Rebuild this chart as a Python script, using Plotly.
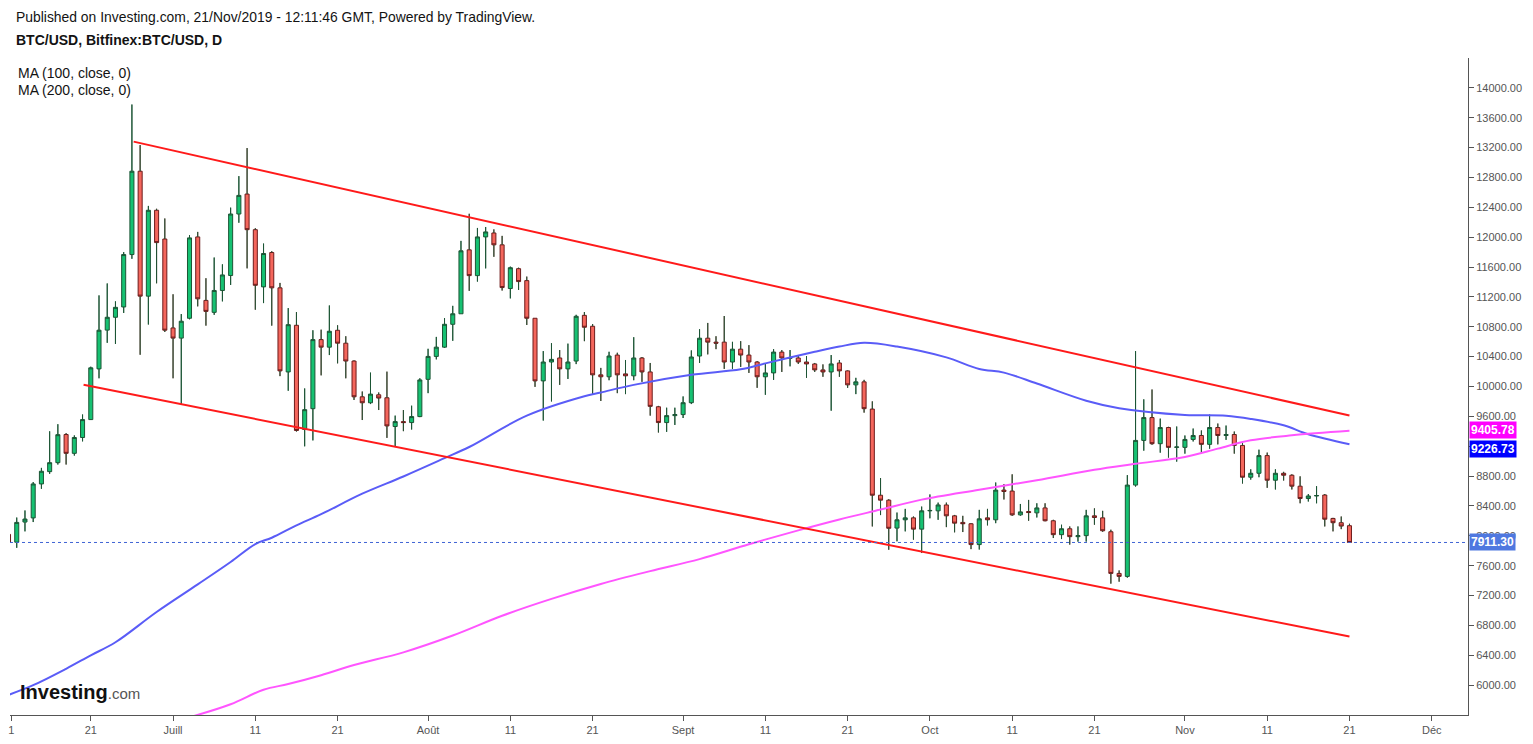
import numpy as np
import pandas as pd
import plotly.graph_objects as go

# Daily BTC/USD candles, Bitfinex, 11 Jun 2019 -> 21 Nov 2019
dates = pd.date_range("2019-06-11", periods=164, freq="D")

opens = [
    # Jun 11-30
    8020, 7915, 8185, 8240, 8695, 8860, 8980, 9357, 9105, 9317,
    9557, 10236, 10755, 10927, 11065, 11767, 12883, 11210, 12360, 11975,
    # Jul
    10784, 10648, 10914, 12003, 11153, 10993, 11286, 11486, 12310, 12577,
    12100, 11334, 11794, 11321, 10195, 10820, 9424, 9703, 10628, 10527,
    10753, 10580, 10341, 9862, 9782, 9889, 9849, 9464, 9530, 9517, 9597,
    # Aug
    10096, 10403, 10527, 10833, 10974, 11830, 11485, 12003, 12056, 11897,
    11312, 11578, 11418, 10914, 10075, 10328, 10382, 10236, 10341, 10953,
    10807, 10156, 10130, 10421, 10169, 10143, 10382, 10195, 9729, 9517, 9610,
    # Sep
    9624, 9783, 10408, 10647, 10594, 10594, 10328, 10500, 10421, 10328,
    10130, 10182, 10461, 10377, 10382, 10328, 10302, 10222, 10195, 10315,
    10209, 10022, 10062, 9698, 8544, 8478, 8104, 8215, 8241, 8090,
    # Oct
    8335, 8335, 8414, 8268, 8180, 8162, 7883, 8241, 8215, 8613,
    8600, 8281, 8326, 8308, 8374, 8202, 8016, 8095, 7989, 8003,
    8268, 8241, 8055, 7497, 7457, 8680, 9278, 9584, 9234, 9451, 9185,
    # Nov 1-21
    9185, 9291, 9344, 9225, 9451, 9344, 9357, 9211, 8785, 8838,
    9075, 8745, 8838, 8812, 8665, 8500, 8534, 8547, 8233, 8176, 8136,
]
highs = [
    8090, 8245, 8340, 8720, 8910, 9400, 9495, 9375, 9345, 9625,
    10265, 11220, 11380, 11140, 11800, 13776, 13233, 12418, 12380, 12250,
    11235, 10970, 12027, 12070, 11450, 11727, 11636, 12395, 12817, 13193,
    12120, 11914, 11812, 11387, 11050, 10997, 9974, 10753, 10761, 11085,
    10820, 10673, 10350, 9933, 10186, 9920, 10199, 9610, 9685, 9743, 10110,
    10505, 10664, 10917, 11080, 11950, 12313, 12123, 12136, 12104, 12017,
    11605, 11591, 11472, 10914, 10474, 10580, 10488, 10574, 10960, 10997,
    10837, 10249, 10465, 10452, 10355, 10660, 10395, 10315, 9740, 9716, 9716,
    9867, 10483, 10767, 10851, 10673, 10944, 10598, 10607, 10554, 10340,
    10302, 10500, 10488, 10488, 10408, 10408, 10315, 10296, 10421, 10355,
    10215, 10116, 10089, 9801, 8774, 8490, 8312, 8361, 8259, 8392,
    8554, 8445, 8445, 8280, 8268, 8170, 8348, 8361, 8714, 8692,
    8824, 8427, 8481, 8436, 8436, 8215, 8149, 8126, 8126, 8348,
    8368, 8335, 8082, 7537, 8813, 10474, 9828, 9960, 9570, 9460, 9464,
    9344, 9437, 9411, 9624, 9504, 9477, 9397, 9264, 8891, 9154,
    9115, 8891, 8857, 8824, 8797, 8560, 8665, 8560, 8241, 8259, 8162,
]
lows = [
    7880, 7840, 8060, 8185, 8630, 8830, 8955, 8955, 9075, 9265,
    9555, 10110, 10585, 10570, 10985, 11710, 10425, 10830, 11382, 10730,
    10110, 9762, 10900, 11073, 10815, 10960, 11140, 11360, 12193, 11582,
    11028, 11117, 10815, 10139, 9943, 9397, 9199, 9278, 10149, 10421,
    10310, 10110, 9820, 9551, 9765, 9685, 9312, 9199, 9402, 9424, 9590,
    9911, 10363, 10518, 10612, 10974, 11281, 11405, 11582, 11737, 11285,
    11180, 11293, 10824, 9995, 9544, 9800, 10022, 10101, 10300, 10607,
    9898, 9806, 10084, 9911, 9898, 10084, 10062, 9610, 9384, 9393, 9485,
    9578, 9765, 10315, 10430, 10500, 10236, 10236, 10262, 10182, 9982,
    9889, 10089, 10195, 10270, 10302, 10116, 10195, 10130, 9676, 10130,
    9982, 9898, 9650, 8126, 8278, 7814, 7927, 8060, 7949, 7770,
    8235, 8215, 8117, 8047, 8051, 7822, 7817, 8140, 8170, 8487,
    8268, 8270, 8202, 8246, 8195, 7971, 7957, 7883, 7923, 7923,
    8149, 8055, 7360, 7386, 7440, 8660, 9141, 9220, 9114, 9048, 8994,
    9101, 9264, 9114, 9167, 9225, 9285, 9101, 8701, 8753, 8785,
    8643, 8621, 8741, 8621, 8436, 8460, 8436, 8126, 8060, 8090, 7905,
]
closes = [
    7915, 8180, 8225, 8695, 8865, 8980, 9355, 9105, 9317, 9557,
    10250, 10754, 10927, 11060, 11767, 12883, 11210, 12360, 11927, 10754,
    10648, 10874, 11990, 11174, 11006, 11286, 11494, 12310, 12559, 12100,
    11355, 11781, 11321, 10209, 10828, 9411, 9690, 10628, 10527, 10740,
    10580, 10341, 9862, 9782, 9898, 9845, 9472, 9530, 9517, 9597, 10088,
    10403, 10527, 10833, 10974, 11817, 11485, 12003, 12070, 11897, 11325,
    11591, 11405, 10914, 10075, 10328, 10363, 10236, 10328, 10940, 10793,
    10156, 10130, 10408, 10156, 10143, 10382, 10195, 9734, 9517, 9610, 9624,
    9783, 10395, 10647, 10594, 10580, 10328, 10500, 10421, 10328, 10130,
    10182, 10461, 10382, 10386, 10328, 10302, 10222, 10195, 10302, 10209,
    10022, 10062, 9703, 8544, 8478, 8101, 8215, 8241, 8090, 8335,
    8340, 8414, 8268, 8170, 8162, 7883, 8228, 8215, 8613, 8594,
    8281, 8321, 8312, 8374, 8202, 8016, 8095, 7989, 8003, 8268,
    8246, 8068, 7497, 7457, 8680, 9278, 9584, 9234, 9451, 9185, 9190,
    9291, 9344, 9225, 9451, 9344, 9357, 9211, 8785, 8838, 9075,
    8745, 8838, 8812, 8665, 8500, 8534, 8540, 8223, 8176, 8131, 7911.30,
]

# moving averages (need history before the window)
ma100_dates = [
    "2019-06-11", "2019-06-14", "2019-06-18", "2019-06-21", "2019-06-24", "2019-06-29",
    "2019-07-04", "2019-07-08", "2019-07-11", "2019-07-13", "2019-07-16", "2019-07-19",
    "2019-07-24", "2019-07-29", "2019-08-03", "2019-08-06", "2019-08-13", "2019-08-20",
    "2019-08-22", "2019-08-26", "2019-09-02", "2019-09-08", "2019-09-11", "2019-09-17",
    "2019-09-20", "2019-09-23", "2019-09-27", "2019-10-03", "2019-10-07", "2019-10-10",
    "2019-10-14", "2019-10-20", "2019-10-24", "2019-11-01", "2019-11-06", "2019-11-09",
    "2019-11-13", "2019-11-16", "2019-11-21",
]
ma100_values = [
    5870, 6000, 6220, 6400, 6575, 6980,
    7350, 7650, 7890, 7975, 8140, 8290,
    8565, 8795, 9040, 9190, 9610, 9870,
    9920, 10022, 10156, 10230, 10310, 10465,
    10535, 10585, 10535, 10390, 10235, 10186,
    10040, 9810, 9710, 9620, 9608, 9566,
    9480, 9360, 9226.73,
]
ma200_dates = [
    "2019-07-03", "2019-07-08", "2019-07-12", "2019-07-15", "2019-07-19", "2019-07-23",
    "2019-07-29", "2019-08-04", "2019-08-10", "2019-08-16", "2019-08-22", "2019-08-28",
    "2019-09-03", "2019-09-09", "2019-09-15", "2019-09-20", "2019-09-25", "2019-09-30",
    "2019-10-07", "2019-10-14", "2019-10-21", "2019-10-26", "2019-11-01", "2019-11-05",
    "2019-11-09", "2019-11-14", "2019-11-21",
]
ma200_values = [
    5570, 5745, 5940, 6015, 6133, 6270,
    6440, 6665, 6930, 7156, 7356, 7528,
    7688, 7887, 8073, 8219, 8352, 8485,
    8618, 8745, 8884, 8964, 9057, 9168,
    9279, 9346, 9405.78,
]

# hand-drawn channel
upper_dates = ["2019-06-26 05:00", "2019-11-21 00:00"]
upper_prices = [13279, 9611]
lower_dates = ["2019-06-20 03:00", "2019-11-21 00:00"]
lower_prices = [10023, 6651]

tick_dates = [
    "2019-06-11 08:00", "2019-06-21", "2019-07-01", "2019-07-11", "2019-07-21",
    "2019-08-01", "2019-08-11", "2019-08-21", "2019-09-01", "2019-09-11", "2019-09-21",
    "2019-10-01", "2019-10-11", "2019-10-21", "2019-11-01", "2019-11-11", "2019-11-21",
    "2019-12-01",
]
tick_text = ["1", "21", "Juill", "11", "21", "Août", "11", "21", "Sept", "11", "21",
             "Oct", "11", "21", "Nov", "11", "21", "Déc"]
price_ticks = list(range(6000, 14001, 400))


def to_dt(vals):
    return pd.to_datetime(vals, format="ISO8601")


FONT = "Liberation Sans, Arial, sans-serif"
UP, DOWN = "#16c172", "#f4665c"
UP_EDGE, DOWN_EDGE = "#1c5535", "#6d1b1b"

fig = go.Figure()

fig.add_trace(go.Candlestick(
    x=dates, open=opens, high=highs, low=lows, close=closes,
    increasing=dict(fillcolor=UP, line=dict(color=UP_EDGE, width=1)),
    decreasing=dict(fillcolor=DOWN, line=dict(color=DOWN_EDGE, width=1)),
    whiskerwidth=0, hoverinfo="skip", showlegend=False,
))

# wicks are dark green on both kinds of candle
o, h, l, c = map(np.asarray, (opens, highs, lows, closes))
top, bot = np.maximum(o, c), np.minimum(o, c)
wx, wy = [], []
for d, hi, t, b, lo in zip(dates, h, top, bot, l):
    wx += [d, d, None, d, d, None]
    wy += [hi, t, None, b, lo, None]
fig.add_trace(go.Scatter(x=wx, y=wy, mode="lines", line=dict(color=UP_EDGE, width=1),
                         hoverinfo="skip", showlegend=False))

fig.add_trace(go.Scatter(x=to_dt(ma100_dates), y=ma100_values, mode="lines",
                         line=dict(color="#5a5cf7", width=2, shape="spline"),
                         hoverinfo="skip", showlegend=False))
fig.add_trace(go.Scatter(x=to_dt(ma200_dates), y=ma200_values, mode="lines",
                         line=dict(color="#ff55ff", width=2, shape="spline"),
                         hoverinfo="skip", showlegend=False))

for xs, ys in ((upper_dates, upper_prices), (lower_dates, lower_prices)):
    fig.add_trace(go.Scatter(x=to_dt(xs), y=ys, mode="lines",
                             line=dict(color="#ff1a1a", width=2),
                             hoverinfo="skip", showlegend=False))

# last price dotted line
fig.add_shape(type="line", xref="paper", x0=0, x1=1, yref="y",
              y0=closes[-1], y1=closes[-1],
              line=dict(color="#3f63d4", width=1, dash="dot"))

annotations = [
    dict(text="Published on Investing.com, 21/Nov/2019 - 12:11:46 GMT, Powered by TradingView.",
         x=0, y=1, xshift=4, yshift=41, font=dict(size=13.9, color="#131313")),
    dict(text="<b>BTC/USD, Bitfinex:BTC/USD, D</b>",
         x=0, y=1, xshift=4, yshift=18, font=dict(size=14, color="#131313")),
    dict(text="MA (100, close, 0)", x=0, y=1, xshift=6, yshift=-15,
         font=dict(size=14, color="#131313")),
    dict(text="MA (200, close, 0)", x=0, y=1, xshift=6, yshift=-32,
         font=dict(size=14, color="#131313")),
    dict(text="<b>Investing</b><span style='font-size:15px;color:#555'>.com</span>",
         x=0, y=0, xshift=8, yshift=23, font=dict(size=20, color="#111")),
]
for a in annotations:
    a.update(xref="paper", yref="paper", xanchor="left", yanchor="middle",
             showarrow=False, font=dict(family=FONT, **a["font"]))

for val, bg, shift in ((ma200_values[-1], "#ff00ff", 1), (ma100_values[-1], "#0000ff", -5),
                       (closes[-1], "#4f78e0", 0)):
    annotations.append(dict(
        text=f"<b>{val:.2f}</b>", xref="paper", x=1, xanchor="left", xshift=1,
        yref="y", y=val, yanchor="middle", yshift=shift, showarrow=False,
        bgcolor=bg, borderpad=1, font=dict(family=FONT, size=12, color="white"),
    ))

fig.update_layout(
    width=1533, height=744,
    margin=dict(l=8, r=65, t=58, b=24),
    paper_bgcolor="white", plot_bgcolor="white",
    font=dict(family=FONT, size=11, color="#555"),
    showlegend=False, hovermode=False,
    annotations=annotations,
    xaxis=dict(
        type="date", range=["2019-06-11 04:20", "2019-12-05 09:50"],
        rangeslider=dict(visible=False),
        tickvals=to_dt(tick_dates), ticktext=tick_text,
        ticks="outside", ticklen=5, tickcolor="#555",
        showline=True, linecolor="#555", linewidth=1,
        showgrid=False, zeroline=False,
        tickfont=dict(size=11, color="#555"),
    ),
    yaxis=dict(
        side="right", range=[5601, 14399],
        tickvals=price_ticks, ticktext=[f"{p:.2f}" for p in price_ticks],
        ticks="outside", ticklen=5, tickcolor="#555",
        showline=True, linecolor="#555", linewidth=1,
        showgrid=False, zeroline=False,
        tickfont=dict(size=11, color="#555"),
    ),
)

# the page's default body margin would push the figure 8px off
fig.write_html("out.html", config={"displayModeBar": False},
               post_script="document.body.style.margin='0';")
